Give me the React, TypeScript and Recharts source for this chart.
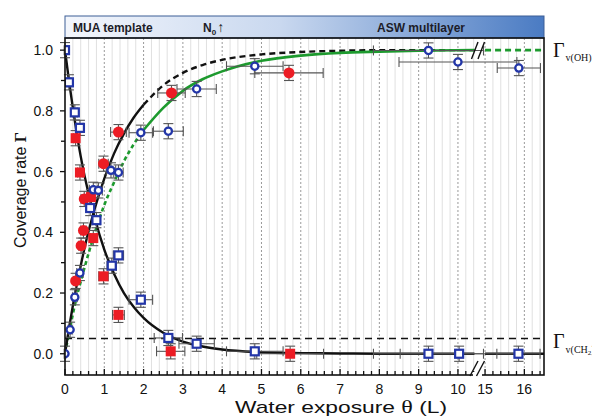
import React from 'react';
import {
  ComposedChart,
  Line,
  Scatter,
  XAxis,
  YAxis,
  CartesianGrid,
  ReferenceLine,
  ErrorBar,
} from 'recharts';

// ---- chart geometry -------------------------------------------------------
const W = 600;
const H = 418;
const PLOT = { left: 57, right: 536, top: 30, bottom: 367 };

// The exposure axis is broken between 10 and 15 L; values past the break are
// shifted left so that 15 L sits just after the gap.
const GAP_END = 10.42; // last exposure drawn before the break
const RESUME_AT = 15;
const RESUME_POS = 10.69;
const X_LAST = 16.5;
const toAxis = (e: number) => (e >= RESUME_AT - 1e-9 ? e - RESUME_AT + RESUME_POS : e);
const fromAxis = (p: number) => (p >= RESUME_POS - 1e-9 ? p - RESUME_POS + RESUME_AT : p);
const X_MAX = toAxis(X_LAST);
const Y_DOMAIN: [number, number] = [-0.07, 1.04];

// ---- measured data --------------------------------------------------------
// Blue: Γv(OH) (open circles)
const blueOHExposure = [0, 0.13, 0.25, 0.38, 0.72, 0.85, 1.17, 1.36, 1.93, 2.63, 3.35, 4.83, 9.25, 10.0, 15.86];
const blueOHCoverage = [0.0, 0.079, 0.186, 0.266, 0.54, 0.538, 0.604, 0.597, 0.728, 0.733, 0.872, 0.947, 0.999, 0.961, 0.941];
const blueOHExposureErr = [0.02, 0.05, 0.06, 0.08, 0.1, 0.1, 0.12, 0.12, 0.3, 0.38, 0.5, 0.72, 1.4, 1.5, 0.55];

// Blue: Γv(CH2) (open squares)
const blueCH2Exposure = [0, 0.1, 0.25, 0.38, 0.64, 0.8, 1.19, 1.36, 1.93, 2.63, 3.35, 4.83, 9.25, 10.03, 15.85];
const blueCH2Coverage = [1.0, 0.894, 0.795, 0.744, 0.48, 0.44, 0.29, 0.324, 0.178, 0.052, 0.033, 0.008, 0.0, 0.0, 0.0];
const blueCH2ExposureErr = [0.02, 0.05, 0.06, 0.08, 0.1, 0.1, 0.12, 0.13, 0.3, 0.36, 0.45, 0.72, 1.4, 1.5, 0.55];

// Red: Γv(OH) (filled circles)
const redOHExposure = [0.27, 0.41, 0.47, 0.49, 0.98, 1.36, 2.71, 5.7];
const redOHCoverage = [0.24, 0.356, 0.406, 0.51, 0.626, 0.73, 0.859, 0.925];
const redOHExposureErr = [0.05, 0.06, 0.07, 0.08, 0.12, 0.2, 0.35, 0.87];

// Red: Γv(CH2) (filled squares)
const redCH2Exposure = [0.27, 0.38, 0.66, 0.72, 0.98, 1.36, 2.69, 5.73];
const redCH2Coverage = [0.71, 0.597, 0.516, 0.381, 0.255, 0.128, 0.008, 0.0];
const redCH2ExposureErr = [0.05, 0.06, 0.08, 0.08, 0.12, 0.15, 0.36, 0.85];

const COVERAGE_ERR = 0.025;

// Fitted curves
const decayExposure = [0, 0.1, 0.2, 0.3, 0.4, 0.5, 0.75, 1.0, 1.25, 1.5, 1.75, 2.0, 2.5, 3.0, 3.5, 4.0, 5.0, 6.0, 7.0, 8.0, GAP_END];
const decayCoverage = [1.0, 0.9, 0.81, 0.725, 0.65, 0.585, 0.45, 0.343, 0.263, 0.2, 0.154, 0.118, 0.069, 0.04, 0.024, 0.014, 0.005, 0.002, 0.001, 0.0, 0.0];
const decayTailExposure = [15, 16.5];
const decayTailCoverage = [0.0, 0.0];

const riseExposure = [0, 0.1, 0.2, 0.3, 0.4, 0.5, 0.75, 1.0, 1.25, 1.5, 1.75, 2.0];
const riseCoverage = [0.0, 0.083, 0.158, 0.228, 0.29, 0.35, 0.475, 0.577, 0.66, 0.725, 0.778, 0.82];
const riseExtExposure = [2.0, 2.5, 3.0, 3.5, 4.0, 5.0, 6.0, 7.0, 8.0, GAP_END];
const riseExtCoverage = [0.82, 0.884, 0.925, 0.951, 0.968, 0.986, 0.994, 0.998, 1.0, 1.0];

const greenEarlyExposure = [0, 0.25, 0.5, 0.75, 1.0, 1.25, 1.5, 1.75, 2.0];
const greenEarlyCoverage = [0.0, 0.16, 0.285, 0.395, 0.49, 0.565, 0.634, 0.69, 0.737];
const greenExposure = [2.0, 2.5, 3.0, 3.5, 4.0, 5.0, 6.0, 7.0, 8.0, 9.0, GAP_END];
const greenCoverage = [0.737, 0.81, 0.866, 0.904, 0.93, 0.965, 0.982, 0.991, 0.995, 0.998, 1.0];
const greenTailExposure = [15, 16.5];
const greenTailCoverage = [1.0, 1.0];

const SATURATION_LIMIT = 0.05;

// ---- tick / grid positions -------------------------------------------------
const xTickExposures: number[] = [];
for (let i = 0; i <= 52; i++) xTickExposures.push(Math.round(i * 2) / 10);
for (let i = 0; i <= 7; i++) xTickExposures.push(Math.round((15 + i * 0.2) * 10) / 10);
const xTicks = xTickExposures.map(toAxis);
const isWhole = (e: number) => Math.abs(e - Math.round(e)) < 1e-6;
const minorGrid = xTickExposures.filter((e) => !isWhole(e)).map(toAxis);
const majorGrid = xTickExposures.filter((e) => isWhole(e) && e > 0).map(toAxis);

const yTicks: number[] = [];
for (let i = 0; i <= 10; i++) yTicks.push(i / 10);

// ---- helpers ---------------------------------------------------------------
type Pt = { x: number; y: number; ex?: number; ey?: number };
const points = (xs: number[], ys: number[], exs?: number[]): Pt[] =>
  xs.map((x, i) => ({ x: toAxis(x), y: ys[i], ex: exs ? exs[i] : undefined, ey: exs ? COVERAGE_ERR : undefined }));

const blueOH = points(blueOHExposure, blueOHCoverage, blueOHExposureErr);
const blueCH2 = points(blueCH2Exposure, blueCH2Coverage, blueCH2ExposureErr);
const redOH = points(redOHExposure, redOHCoverage, redOHExposureErr);
const redCH2 = points(redCH2Exposure, redCH2Coverage, redCH2ExposureErr);

const BLUE = '#2336a8';
const RED = '#ec1c24';
const GREEN = '#1d9a2e';
const INK = '#111';
const ERR = '#555';
const SANS = 'Arial, "Liberation Sans", "DejaVu Sans", sans-serif';
const SERIF = '"Liberation Serif", "Times New Roman", serif';

const OpenCircle = (p: any) => (
  <circle cx={p.cx} cy={p.cy} r={3.6} fill="#fff" stroke={BLUE} strokeWidth={2.3} />
);
const OpenSquare = (p: any) => (
  <rect x={p.cx - 4} y={p.cy - 4} width={8} height={8} fill="#fff" stroke={BLUE} strokeWidth={2.2} />
);
const RedDot = (p: any) => <circle cx={p.cx} cy={p.cy} r={5.5} fill={RED} />;
const RedSquare = (p: any) => (
  <rect x={p.cx - 5} y={p.cy - 5} width={10} height={10} fill={RED} />
);

const XTick = (props: any) => {
  const { x, payload } = props;
  const e = Math.round(fromAxis(payload.value) * 100) / 100;
  const major = isWhole(e);
  return (
    <g>
      <line x1={x} x2={x} y1={PLOT.bottom} y2={PLOT.bottom - (major ? 6 : 4)} stroke={INK} strokeWidth={1.3} />
      {major && (
        <text x={x} y={PLOT.bottom + 19} textAnchor="middle" fontSize={14} fill={INK} fontFamily={SANS}>
          {Math.round(e)}
        </text>
      )}
    </g>
  );
};

const YTick = (props: any) => {
  const { y, payload } = props;
  const v = Math.round(payload.value * 10);
  const major = v % 2 === 0;
  return (
    <g>
      <line x1={PLOT.left} x2={PLOT.left - (major ? 5 : 4)} y1={y} y2={y} stroke={INK} strokeWidth={1.3} />
      {major && (
        <text x={PLOT.left - 12} y={y + 5} textAnchor="end" fontSize={14} fill={INK} fontFamily={SANS}>
          {(v / 10).toFixed(1)}
        </text>
      )}
    </g>
  );
};

const curve = (xs: number[], ys: number[]) => xs.map((x, i) => ({ x: toAxis(x), y: ys[i] }));

export default function App() {
  const plotW = PLOT.right - PLOT.left;
  return (
    <div style={{ position: 'relative', width: W, height: H, fontFamily: SANS }}>
      <ComposedChart
        width={W}
        height={H}
        margin={{ top: PLOT.top, right: W - PLOT.right, left: 0, bottom: 0 }}
      >
        <CartesianGrid horizontal={false} verticalValues={minorGrid} stroke="#e0e0e0" strokeWidth={1} />
        <CartesianGrid horizontal={false} verticalValues={majorGrid} stroke="#9a9a9a" strokeDasharray="2 2" strokeWidth={1} />
        <XAxis
          dataKey="x"
          type="number"
          domain={[0, X_MAX]}
          ticks={xTicks}
          interval={0}
          allowDataOverflow
          tickLine={false}
          axisLine={false}
          tickSize={0}
          tickMargin={0}
          height={H - PLOT.bottom}
          tick={<XTick />}
        />
        <YAxis
          dataKey="y"
          type="number"
          domain={Y_DOMAIN}
          ticks={yTicks}
          interval={0}
          allowDataOverflow
          tickLine={false}
          axisLine={false}
          tickSize={0}
          tickMargin={0}
          width={PLOT.left}
          tick={<YTick />}
        />
        <ReferenceLine y={SATURATION_LIMIT} stroke={INK} strokeWidth={1.6} strokeDasharray="7 5" />

        <Line data={curve(greenEarlyExposure, greenEarlyCoverage)} dataKey="y" type="monotone" stroke={GREEN} strokeWidth={2.6} strokeDasharray="4 3" dot={false} isAnimationActive={false} />
        <Line data={curve(riseExtExposure, riseExtCoverage)} dataKey="y" type="monotone" stroke={INK} strokeWidth={2.4} strokeDasharray="6 4" dot={false} isAnimationActive={false} />
        <Line data={curve(greenExposure, greenCoverage)} dataKey="y" type="monotone" stroke={GREEN} strokeWidth={2.6} dot={false} isAnimationActive={false} />
        <Line data={curve(greenTailExposure, greenTailCoverage)} dataKey="y" type="linear" stroke={GREEN} strokeWidth={2.6} strokeDasharray="6 4" dot={false} isAnimationActive={false} />
        <Line data={curve(riseExposure, riseCoverage)} dataKey="y" type="monotone" stroke={INK} strokeWidth={2.4} dot={false} isAnimationActive={false} />
        <Line data={curve(decayExposure, decayCoverage)} dataKey="y" type="monotone" stroke={INK} strokeWidth={2.4} dot={false} isAnimationActive={false} />
        <Line data={curve(decayTailExposure, decayTailCoverage)} dataKey="y" type="linear" stroke={INK} strokeWidth={2.4} dot={false} isAnimationActive={false} />

        <Scatter data={redCH2} shape={RedSquare} isAnimationActive={false}>
          <ErrorBar dataKey="ex" direction="x" width={5} stroke={ERR} strokeWidth={1.1} isAnimationActive={false} />
          <ErrorBar dataKey="ey" direction="y" width={5} stroke={ERR} strokeWidth={1.1} isAnimationActive={false} />
        </Scatter>
        <Scatter data={redOH} shape={RedDot} isAnimationActive={false}>
          <ErrorBar dataKey="ex" direction="x" width={5} stroke={ERR} strokeWidth={1.1} isAnimationActive={false} />
          <ErrorBar dataKey="ey" direction="y" width={5} stroke={ERR} strokeWidth={1.1} isAnimationActive={false} />
        </Scatter>
        <Scatter data={blueCH2} shape={OpenSquare} isAnimationActive={false}>
          <ErrorBar dataKey="ex" direction="x" width={5} stroke={ERR} strokeWidth={1.1} isAnimationActive={false} />
          <ErrorBar dataKey="ey" direction="y" width={5} stroke={ERR} strokeWidth={1.1} isAnimationActive={false} />
        </Scatter>
        <Scatter data={blueOH} shape={OpenCircle} isAnimationActive={false}>
          <ErrorBar dataKey="ex" direction="x" width={5} stroke={ERR} strokeWidth={1.1} isAnimationActive={false} />
          <ErrorBar dataKey="ey" direction="y" width={5} stroke={ERR} strokeWidth={1.1} isAnimationActive={false} />
        </Scatter>
      </ComposedChart>

      {/* frame, stage banner, axis titles and series labels */}
      <svg
        width={W}
        height={H}
        style={{ position: 'absolute', left: 0, top: 0, pointerEvents: 'none', overflow: 'visible' }}
      >
        <defs>
          <linearGradient id="stageBand" x1="0" y1="0" x2="1" y2="0">
            <stop offset="0%" stopColor="#f3f6fc" />
            <stop offset="45%" stopColor="#c9d8ef" />
            <stop offset="100%" stopColor="#4a7bc3" />
          </linearGradient>
        </defs>

        <rect x={PLOT.left} y={8} width={plotW} height={PLOT.top - 8} fill="url(#stageBand)" stroke="#3d5f96" strokeWidth={1} />
        <text x={PLOT.left + 8} y={24} fontSize={12} fontWeight="bold" fill="#1c1c28" fontFamily={SANS}>MUA template</text>
        <text x={195} y={24} fontSize={12} fontWeight="bold" fill="#1c1c28" fontFamily={SANS}>
          N<tspan fontSize={8} dy={3}>0</tspan><tspan dy={-3} dx={1} fontSize={14}>↑</tspan>
        </text>
        <text x={369} y={24} fontSize={12} fontWeight="bold" fill="#1c1c28" fontFamily={SANS}>ASW multilayer</text>

        <rect x={PLOT.left} y={PLOT.top} width={plotW} height={PLOT.bottom - PLOT.top} fill="none" stroke={INK} strokeWidth={1.6} />

        {/* axis break marks */}
        <rect x={465} y={PLOT.bottom - 3} width={9} height={6} fill="#fff" />
        <line x1={462} y1={368} x2={470} y2={353} stroke={INK} strokeWidth={1.4} />
        <line x1={468.5} y1={368} x2={476.5} y2={353} stroke={INK} strokeWidth={1.4} />
        <line x1={463.5} y1={51} x2={470} y2={34} stroke={INK} strokeWidth={1.4} />
        <line x1={470} y1={51} x2={476.5} y2={34} stroke={INK} strokeWidth={1.4} />

        <text x={545} y={49} fontSize={20} fill={INK} fontFamily={SERIF}>
          Γ<tspan fontSize={10} dx={1} dy={4}>v(OH)</tspan>
        </text>
        <text x={545} y={340} fontSize={20} fill={INK} fontFamily={SERIF}>
          Γ<tspan fontSize={10} dx={1} dy={5}>v(CH</tspan>
          <tspan fontSize={7} dy={2}>2</tspan>
          <tspan fontSize={10} dy={-2}>)</tspan>
        </text>

        <text
          x={333}
          y={405}
          fontSize={17}
          textAnchor="middle"
          fill={INK}
          fontFamily={SANS}
          textLength={212}
          lengthAdjust="spacingAndGlyphs"
        >
          Water exposure <tspan fontFamily={SERIF} fontSize={18}>θ</tspan> (L)
        </text>
        <text
          x={12}
          y={182}
          fontSize={16}
          textAnchor="middle"
          fill={INK}
          fontFamily={SANS}
          transform="rotate(-90 12 182)"
          dominantBaseline="central"
        >
          Coverage rate <tspan fontFamily={SERIF} fontWeight="bold">Γ</tspan>
        </text>
      </svg>
    </div>
  );
}
